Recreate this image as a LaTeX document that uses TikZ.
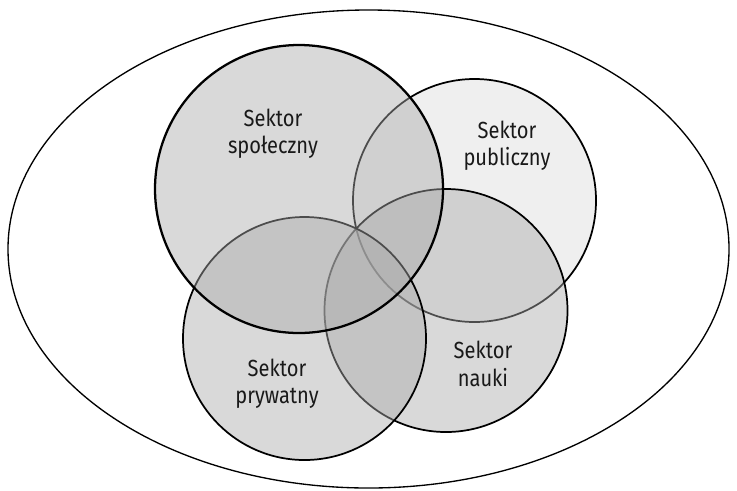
\documentclass[tikz,border=0pt]{standalone}
\usepackage{fontspec}
\setmainfont{Fira Sans}[FakeStretch=0.86]
\usetikzlibrary{shapes.geometric}
\begin{document}
\begin{tikzpicture}[x=0.75pt,y=-0.75pt,
  sector/.style={draw=black,line width=1.3pt,fill=sgray,fill opacity=0.45,draw opacity=1},
  lbl/.style={align=center,text=black!90,font=\fontsize{17.5pt}{20.5pt}\selectfont,text opacity=1}]
\definecolor{sgray}{RGB}{170,170,170}
\definecolor{pgray}{RGB}{220,220,220}
\useasboundingbox (0,0) rectangle (737,490);
\node[draw=black,line width=1pt,ellipse,minimum width=540.75pt,minimum height=358.5pt,inner sep=0pt] (outer) at (368.5,249) {};
\draw[sector,fill=pgray] (474.5,200.5) circle[radius=121.5] coordinate (pub);
\draw[sector] (446,310.5) circle[radius=121.5] coordinate (nau);
\draw[sector] (304.5,338.5) circle[radius=121.5] coordinate (pry);
\draw[sector,line width=1.7pt] (299,189) circle[radius=144] coordinate (spo);
\node[lbl] (lspo) at (273,134) {Sektor\\społeczny};
\node[lbl] (lpub) at (507,146) {Sektor\\publiczny};
\node[lbl] (lpry) at (277,384) {Sektor\\prywatny};
\node[lbl] (lnau) at (483,364) {Sektor\\nauki};
\end{tikzpicture}
\end{document}
